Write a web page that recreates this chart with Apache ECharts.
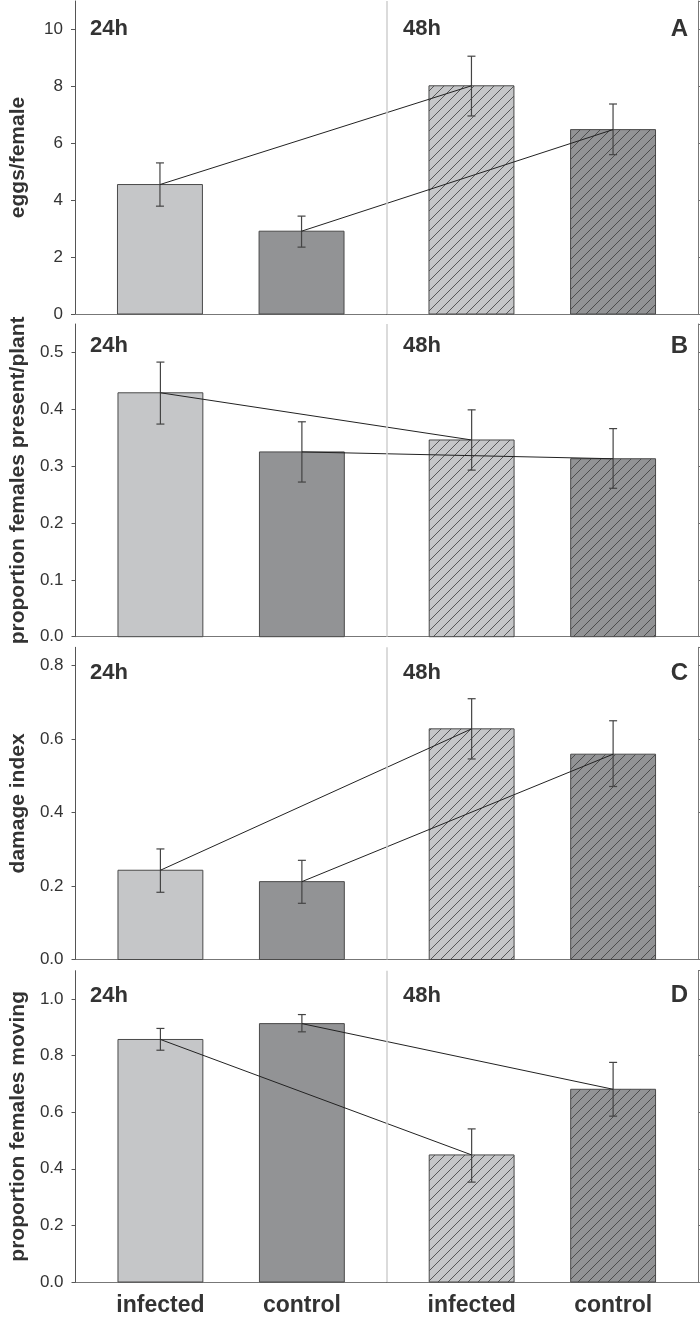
<!DOCTYPE html>
<html>
<head>
<meta charset="utf-8">
<script src="https://cdn.jsdelivr.net/npm/echarts@6/dist/echarts.min.js"></script>
<style>
html,body{margin:0;padding:0;background:#fff;}
#chart{width:700px;height:1317px;}
</style>
</head>
<body>
<div id="chart"></div>
<script>
// ---- data ----
const categories = ['infected', 'control', 'infected', 'control'];
const timeLabels = ['24h', '48h'];
const panelLetters = ['A', 'B', 'C', 'D'];
const yNames = ['eggs/female', 'proportion females present/plant', 'damage index', 'proportion females moving'];

const eggsMean = [4.55, 2.91, 8.02, 6.48];
const eggsLow  = [3.79, 2.35, 6.96, 5.60];
const eggsHigh = [5.31, 3.44, 9.06, 7.38];

const presentMean = [0.429, 0.325, 0.346, 0.313];
const presentLow  = [0.374, 0.272, 0.293, 0.261];
const presentHigh = [0.483, 0.378, 0.399, 0.366];

const damageMean = [0.243, 0.212, 0.628, 0.559];
const damageLow  = [0.183, 0.153, 0.546, 0.471];
const damageHigh = [0.301, 0.270, 0.710, 0.650];

const movingMean = [0.857, 0.913, 0.449, 0.681];
const movingLow  = [0.819, 0.884, 0.353, 0.586];
const movingHigh = [0.896, 0.945, 0.541, 0.776];

const yMaxes = [11, 0.55, 0.85, 1.1];
const yIntervals = [2, 0.1, 0.2, 0.2];
const yDecimals = [0, 1, 1, 1];

const panels = [
  [eggsMean, eggsLow, eggsHigh],
  [presentMean, presentLow, presentHigh],
  [damageMean, damageLow, damageHigh],
  [movingMean, movingLow, movingHigh]
];

// ---- layout ----
const gridTops = [1, 324, 647.3, 970.7];
const gridHeights = [313, 312.7, 312.2, 312];
const textOffsets = [29, 23, 27, 26];
const FONT = 'Liberation Sans, Arial, sans-serif';
const lightFill = '#c5c6c8';
const darkFill = '#929395';

// category index -> x position (gap between the 24h and 48h groups)
function xPos(i) { return i + 1 + (i >= 2 ? 0.2 : 0); }
const sepX = 2.6;

function makePattern(bg) {
  const s = 10;
  const c = document.createElement('canvas');
  c.width = s; c.height = s;
  const g = c.getContext('2d');
  g.fillStyle = bg; g.fillRect(0, 0, s, s);
  g.strokeStyle = '#3a3a3a'; g.lineWidth = 0.8;
  g.beginPath();
  g.moveTo(0, s); g.lineTo(s, 0);
  g.moveTo(-1, 1); g.lineTo(1, -1);
  g.moveTo(s - 1, s + 1); g.lineTo(s + 1, s - 1);
  g.stroke();
  return { image: c, repeat: 'repeat' };
}
const patterns = [makePattern(lightFill), makePattern(darkFill)];

function renderBar(params, api) {
  const x = api.value(0), y = api.value(1), lo = api.value(2), hi = api.value(3);
  const idx = api.value(4);
  const shade = idx % 2;
  const hatched = idx >= 2;
  const tl = api.coord([x - 0.3, y]);
  const br = api.coord([x + 0.3, 0]);
  const c = api.coord([x, y]);
  const pLo = api.coord([x, lo]);
  const pHi = api.coord([x, hi]);
  const cap = 4;
  return {
    type: 'group',
    children: [
      {
        type: 'rect',
        shape: { x: tl[0], y: tl[1], width: br[0] - tl[0], height: br[1] - tl[1] },
        style: { fill: hatched ? patterns[shade] : (shade ? darkFill : lightFill), stroke: '#4a4a4a', lineWidth: 1 }
      },
      { type: 'line', shape: { x1: c[0], y1: pLo[1], x2: c[0], y2: pHi[1] }, style: { stroke: '#444', lineWidth: 1.2 }, z2: 5 },
      { type: 'line', shape: { x1: c[0] - cap, y1: pLo[1], x2: c[0] + cap, y2: pLo[1] }, style: { stroke: '#444', lineWidth: 1.2 }, z2: 5 },
      { type: 'line', shape: { x1: c[0] - cap, y1: pHi[1], x2: c[0] + cap, y2: pHi[1] }, style: { stroke: '#444', lineWidth: 1.2 }, z2: 5 }
    ]
  };
}

const grids = [], xAxes = [], yAxes = [], series = [], graphics = [];

panels.forEach((p, k) => {
  const [mean, low, high] = p;
  grids.push({ left: 73, right: 2, top: gridTops[k], height: gridHeights[k] });
  // bottom x axis
  xAxes.push({
    type: 'value', gridIndex: k, min: 0.4, max: 4.8, interval: 0.2,
    axisLine: { show: true, lineStyle: { color: '#333', width: 1.2 } },
    axisTick: { show: false }, splitLine: { show: false },
    axisLabel: {
      show: k === 3, margin: 12,
      fontFamily: FONT, fontWeight: 'bold', fontSize: 23, color: '#333',
      showMinLabel: false, showMaxLabel: false,
      formatter: v => {
        for (let i = 0; i < categories.length; i++) if (Math.abs(v - xPos(i)) < 1e-6) return categories[i];
        return '';
      }
    }
  });
  // top frame
  xAxes.push({
    type: 'value', gridIndex: k, position: 'top', min: 0.4, max: 4.8,
    axisLine: { show: true, lineStyle: { color: '#777', width: 1 } },
    axisTick: { show: false }, axisLabel: { show: false }, splitLine: { show: false }
  });
  const dec = yDecimals[k];
  yAxes.push({
    type: 'value', gridIndex: k, min: 0, max: yMaxes[k], interval: yIntervals[k],
    name: yNames[k], nameLocation: 'middle', nameGap: 46,
    nameTextStyle: { fontFamily: FONT, fontWeight: 'bold', fontSize: 21, color: '#333' },
    axisLine: { show: true, lineStyle: { color: '#555', width: 1 } },
    axisTick: { show: true, inside: false, length: 4, lineStyle: { color: '#555' } },
    axisLabel: { fontFamily: FONT, fontSize: 17, color: '#333', margin: 12, showMaxLabel: false,
      formatter: v => v.toFixed(dec) },
    splitLine: { show: false }
  });
  yAxes.push({
    type: 'value', gridIndex: k, position: 'right', min: 0, max: yMaxes[k], interval: yIntervals[k],
    axisLine: { show: true, lineStyle: { color: '#777', width: 1 } },
    axisTick: { show: true, inside: false, length: 3, lineStyle: { color: '#777' } },
    axisLabel: { show: false }, splitLine: { show: false }
  });
  const xb = 2 * k, yl = 2 * k;
  series.push({
    type: 'custom', xAxisIndex: xb, yAxisIndex: yl, renderItem: renderBar,
    data: mean.map((m, i) => [xPos(i), m, low[i], high[i], i]),
    encode: { x: 0, y: [1, 2, 3] }, z: 2, silent: true
  });
  // connecting lines: infected 24h -> infected 48h, control 24h -> control 48h
  [0, 1].forEach(j => {
    series.push({
      type: 'line', xAxisIndex: xb, yAxisIndex: yl, symbol: 'none', silent: true, z: 3,
      lineStyle: { color: '#222', width: 1 },
      data: [[xPos(j), mean[j]], [xPos(j + 2), mean[j + 2]]],
      markLine: j === 0 ? {
        silent: true, symbol: 'none', label: { show: false },
        lineStyle: { color: '#cfcfcf', width: 1.5, type: 'solid' },
        data: [{ xAxis: sepX }]
      } : undefined
    });
  });
  const cy = gridTops[k] + textOffsets[k];
  graphics.push({ type: 'text', left: 90, top: cy - 12, z: 10,
    style: { text: timeLabels[0], font: 'bold 22px ' + FONT, fill: '#333' } });
  graphics.push({ type: 'text', left: 403, top: cy - 12, z: 10,
    style: { text: timeLabels[1], font: 'bold 22px ' + FONT, fill: '#333' } });
  graphics.push({ type: 'text', right: 12, top: cy - 13, z: 10,
    style: { text: panelLetters[k], font: 'bold 24px ' + FONT, fill: '#333' } });
});

const chart = echarts.init(document.getElementById('chart'), null, { renderer: 'canvas' });
chart.setOption({
  animation: false,
  backgroundColor: '#fff',
  grid: grids,
  xAxis: xAxes,
  yAxis: yAxes,
  series: series,
  graphic: graphics
});
</script>
</body>
</html>
